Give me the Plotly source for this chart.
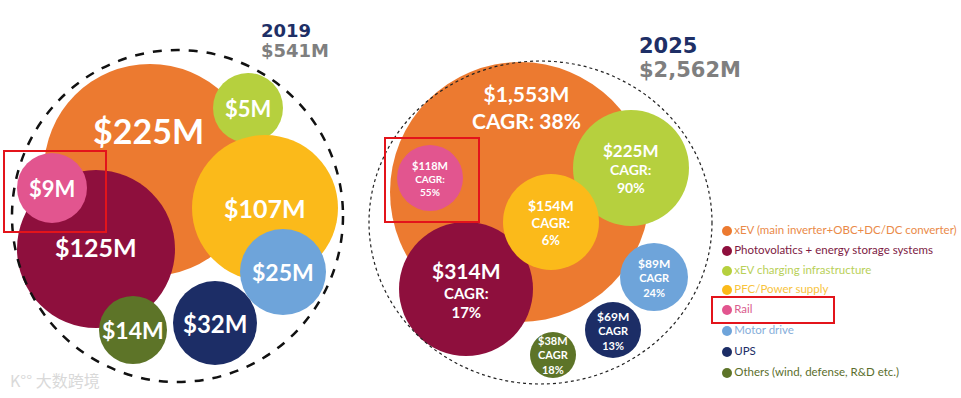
import plotly.graph_objects as go

# ---------------- data ----------------
categories = [
    "xEV (main inverter+OBC+DC/DC converter)",
    "Photovolatics + energy storage systems",
    "xEV charging infrastructure",
    "PFC/Power supply",
    "Rail",
    "Motor drive",
    "UPS",
    "Others (wind, defense, R&D etc.)",
]
values_2019 = [225, 125, 5, 107, 9, 25, 32, 14]
values_2025 = [1553, 314, 225, 154, 118, 89, 69, 38]
cagr_2025 = [38, 17, 90, 6, 55, 24, 13, 18]
years = ["2019", "2025"]
totals = [541, 2562]

# ---------------- styling / layout ----------------
colors = ["#EC7A30", "#8E0F3D", "#B6D03E", "#FBBA1A", "#E2558F", "#6EA4DA", "#1C2D66", "#5D7428"]
legend_text_colors = ["#EA8A48", "#7D1A43", "#B9D058", "#F8C43E", "#DA5C8E", "#86AEDA", "#1C2D66", "#5B6E2C"]

# circle layout (cx, cy, r) in pixel-like data units, per category order
layout_2019 = [(150, 170, 106), (96, 249, 79), (248, 108, 35), (265, 208, 73),
               (52, 188, 35), (283, 272, 43), (215, 323, 42), (133, 330, 34)]
layout_2025 = [(520, 192, 130), (466, 289, 67), (631, 168, 58), (551, 222, 48),
               (430, 178, 33), (654, 277, 34), (613, 330, 28), (553, 355, 23)]
draw_order_2019 = [0, 2, 3, 5, 1, 4, 7, 6]
draw_order_2025 = [0, 2, 4, 1, 3, 5, 6, 7]
fs_2019 = [34, 25, 22, 25, 22, 23, 24, 23]
fs_2025_main = [21, 21, 17, 14, 11, 12, 12, 11]
fs_2025_sub = [21, 15, 14, 13, 10, 11, 11, 11]

W, H = 961, 398
fig = go.Figure()
shapes = []
annotations = []

def circle(cx, cy, r, **kw):
    return dict(type="circle", xref="x", yref="y", x0=cx - r, x1=cx + r,
                y0=cy - r, y1=cy + r, layer="above", **kw)

# 2019 bubbles
for i in draw_order_2019:
    cx, cy, r = layout_2019[i]
    shapes.append(circle(cx, cy, r, fillcolor=colors[i], line=dict(width=0)))
# 2025 bubbles
for i in draw_order_2025:
    cx, cy, r = layout_2025[i]
    shapes.append(circle(cx, cy, r, fillcolor=colors[i], line=dict(width=0)))

# dashed outer circles
shapes.append(dict(type="circle", xref="x", yref="y", x0=12, x1=343, y0=50, y1=382,
                   line=dict(color="#111111", width=2.5, dash="dash"), layer="above"))
shapes.append(dict(type="circle", xref="x", yref="y", x0=369, x1=712, y0=61, y1=384,
                   line=dict(color="#222222", width=1.2, dash="dot"), layer="above"))

# red highlight rectangles
for (x0, y0, x1, y1) in [(4, 151, 106, 232), (385, 138, 479, 222), (712, 297, 834, 323)]:
    shapes.append(dict(type="rect", xref="x", yref="y", x0=x0, x1=x1, y0=y0, y1=y1,
                       line=dict(color="#E3141B", width=2), layer="above"))

FONT = "Lato"

# bubble labels 2019
for i in range(len(categories)):
    cx, cy, r = layout_2019[i]
    dx, dy = 0, 0
    if i == 0:
        dx, dy = -2, -40
    if i == 1:
        dx, dy = 0, -2
    annotations.append(dict(x=cx + dx, y=cy + dy, xref="x", yref="y",
                            text=f"${values_2019[i]:,}M", showarrow=False,
                            font=dict(family=FONT, size=fs_2019[i], color="white", weight="bold")))

# bubble labels 2025
for i in range(len(categories)):
    cx, cy, r = layout_2025[i]
    sep = ": " if i in (0,) else (":" if i in (1, 2, 3, 4) else "")
    if i == 0:
        text = (f"${values_2025[i]:,}M<br>CAGR{sep}{cagr_2025[i]}%")
        annotations.append(dict(x=cx + 6, y=cy - 85, xref="x", yref="y", text=text,
                                showarrow=False,
                                font=dict(family=FONT, size=fs_2025_main[i], color="white", weight="bold")))
        continue
    text = (f"<span style='font-size:{fs_2025_main[i]}px'>${values_2025[i]:,}M</span><br>"
            f"CAGR{sep}<br>{cagr_2025[i]}%")
    annotations.append(dict(x=cx, y=cy, xref="x", yref="y", text=text, showarrow=False,
                            font=dict(family=FONT, size=fs_2025_sub[i], color="white", weight="bold")))

# titles
TFONT = "DejaVu Sans"
for (x, y1, y2, yr, tot, fs) in [(259, 30, 50, years[0], totals[0], 18), (637, 46, 70, years[1], totals[1], 21)]:
    annotations.append(dict(x=x, y=y1, xref="x", yref="y", xanchor="left", text=yr,
                            showarrow=False,
                            font=dict(family=TFONT, size=fs, color="#1E2F66", weight="bold")))
    annotations.append(dict(x=x, y=y2, xref="x", yref="y", xanchor="left", text=f"${tot:,}M",
                            showarrow=False,
                            font=dict(family=TFONT, size=fs, color="#7F7F7F", weight="bold")))

# watermark
annotations.append(dict(x=8, y=380, xref="x", yref="y", xanchor="left", text="K°° 大数跨境",
                        showarrow=False,
                        font=dict(family="Noto Sans CJK SC", size=16, color="#D9D9D9")))

# legend drawn as a scatter trace
legend_x = [727] * len(categories)
legend_y = [231, 251, 271, 290, 310, 331, 352, 373]
fig.add_trace(go.Scatter(
    x=legend_x, y=legend_y, mode="markers+text",
    marker=dict(size=10, color=colors),
    text=categories, textposition="middle right",
    textfont=dict(family=FONT, size=11.5, color=legend_text_colors),
    hoverinfo="skip", showlegend=False, cliponaxis=False,
))

fig.update_layout(
    width=W, height=H,
    margin=dict(l=0, r=0, t=0, b=0),
    paper_bgcolor="white", plot_bgcolor="white",
    xaxis=dict(range=[0, W], visible=False, fixedrange=True),
    yaxis=dict(range=[H, 0], visible=False, fixedrange=True),
    shapes=shapes, annotations=annotations, showlegend=False,
)

fig.write_html("out.html", config={"displayModeBar": False},
               post_script="document.body.style.margin='0';document.body.style.overflow='hidden';")
